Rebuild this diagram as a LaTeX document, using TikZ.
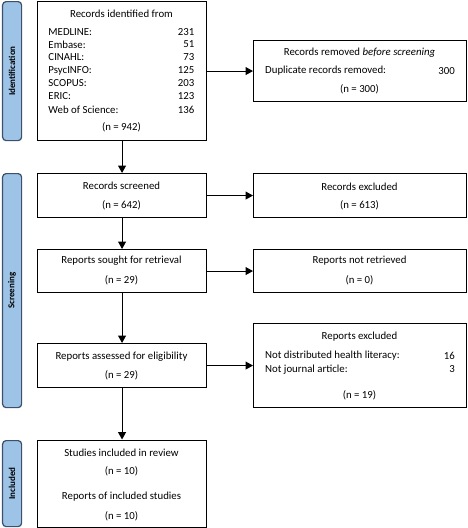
\documentclass[tikz,border=0pt]{standalone}
\usepackage{fontspec}
\setmainfont{Carlito}
\usetikzlibrary{arrows.meta}
\definecolor{barfill}{RGB}{157,195,230}
\definecolor{barline}{RGB}{60,80,105}
\tikzset{
  box/.style={draw=black, line width=1.1pt, fill=white, rectangle, inner sep=0pt, anchor=north west},
  bar/.style={draw=barline, line width=1.2pt, fill=barfill, rounded corners=3.5pt, rectangle, inner sep=0pt, anchor=north west, minimum width=19pt},
  barlabel/.style={rotate=90, font=\fontsize{9}{10}\selectfont\bfseries, inner sep=0pt},
  txt/.style={font=\fontsize{10.8}{12}\selectfont, inner sep=0pt},
  ltxt/.style={txt, anchor=west},
  rtxt/.style={txt, anchor=east},
  arr/.style={line width=1pt, -{Triangle[length=7.5pt,width=8pt]}}
}
\begin{document}
\begin{tikzpicture}[x=1pt,y=-1pt]
\useasboundingbox (0,0) rectangle (467,528);
% side bars
\node[bar, minimum height=139pt] (sb1) at (2,1) {};
\node[barlabel] (sl1) at (sb1.center) {Identification};
\node[bar, minimum height=234pt] (sb2) at (2,173) {};
\node[barlabel] (sl2) at (sb2.center) {Screening};
\node[bar, minimum height=86pt] (sb3) at (2,440) {};
\node[barlabel] (sl3) at (sb3.center) {Included};
% left boxes
\node[box, minimum width=169pt, minimum height=139pt] (b1) at (37,1) {};
\node[box, minimum width=169pt, minimum height=44pt] (b2) at (37,173) {};
\node[box, minimum width=169pt, minimum height=43pt] (b3) at (37,249) {};
\node[box, minimum width=169pt, minimum height=44pt] (b4) at (37,343) {};
\node[box, minimum width=169pt, minimum height=87pt] (b5) at (37,439.5) {};
% right boxes
\node[box, minimum width=213pt, minimum height=61pt] (r1) at (253,40) {};
\node[box, minimum width=213pt, minimum height=44pt] (r2) at (253,173) {};
\node[box, minimum width=213pt, minimum height=43pt] (r3) at (253,249) {};
\node[box, minimum width=213pt, minimum height=84pt] (r4) at (253,323) {};
% texts box 1
\node[txt] (t1) at (121.5,13.3) {Records identified from};
\node[ltxt] (t1a) at (48.3,31.7) {MEDLINE:};
\node[rtxt] (n1a) at (194.5,31.7) {231};
\node[ltxt] (t1b) at (48.3,44.5) {Embase:};
\node[rtxt] (n1b) at (194.5,44.5) {51};
\node[ltxt] (t1c) at (48.3,57.5) {CINAHL:};
\node[rtxt] (n1c) at (194.5,57.5) {73};
\node[ltxt] (t1d) at (48.3,70.5) {PsycINFO:};
\node[rtxt] (n1d) at (194.5,70.5) {125};
\node[ltxt] (t1e) at (48.3,83.5) {SCOPUS:};
\node[rtxt] (n1e) at (194.5,83.5) {203};
\node[ltxt] (t1f) at (48.3,96.5) {ERIC:};
\node[rtxt] (n1f) at (194.5,96.5) {123};
\node[ltxt] (t1g) at (48.3,109.5) {Web of Science:};
\node[rtxt] (n1g) at (194.5,109.5) {136};
\node[txt] (t1n) at (121.5,127.3) {(n = 942)};
% box 2-5
\node[txt] (t2) at (121.5,186) {Records screened};
\node[txt] (t2n) at (121.5,205) {(n = 642)};
\node[txt] (t3) at (121.5,261) {Reports sought for retrieval};
\node[txt] (t3n) at (121.5,280) {(n = 29)};
\node[txt] (t4) at (121.5,356.5) {Reports assessed for eligibility};
\node[txt] (t4n) at (121.5,375.7) {(n = 29)};
\node[txt] (t5) at (121.5,452.7) {Studies included in review};
\node[txt] (t5n) at (121.5,471.7) {(n = 10)};
\node[txt] (t5b) at (121.5,496.7) {Reports of included studies};
\node[txt] (t5bn) at (121.5,516) {(n = 10)};
% right texts
\node[txt] (u1) at (359.5,52.3) {Records removed \textit{before screening}};
\node[ltxt] (u1a) at (265,71) {Duplicate records removed:};
\node[rtxt] (v1a) at (455,71) {300};
\node[txt] (u1n) at (359.5,89.3) {(n = 300)};
\node[txt] (u2) at (359.5,186.5) {Records excluded};
\node[txt] (u2n) at (359.5,205) {(n = 613)};
\node[txt] (u3) at (359.5,261) {Reports not retrieved};
\node[txt] (u3n) at (359.5,280) {(n = 0)};
\node[txt] (u4) at (359.5,336.7) {Reports excluded};
\node[ltxt] (u4a) at (265,355.7) {Not distributed health literacy:};
\node[rtxt] (v4a) at (455,355.7) {16};
\node[ltxt] (u4b) at (265,369.3) {Not journal article:};
\node[rtxt] (v4b) at (455,369.3) {3};
\node[txt] (u4n) at (359.5,395) {(n = 19)};
% arrows
\draw[arr] (b1.south) -- (b2.north);
\draw[arr] (b2.south) -- (b3.north);
\draw[arr] (b3.south) -- (b4.north);
\draw[arr] (b4.south) -- (b5.north);
\draw[arr] (b1.east |- r1.west) -- (r1.west);
\draw[arr] (b2.east) -- (r2.west);
\draw[arr] (b3.east) -- (r3.west);
\draw[arr] (b4.east |- r4.west) -- (r4.west);
\end{tikzpicture}
\end{document}
